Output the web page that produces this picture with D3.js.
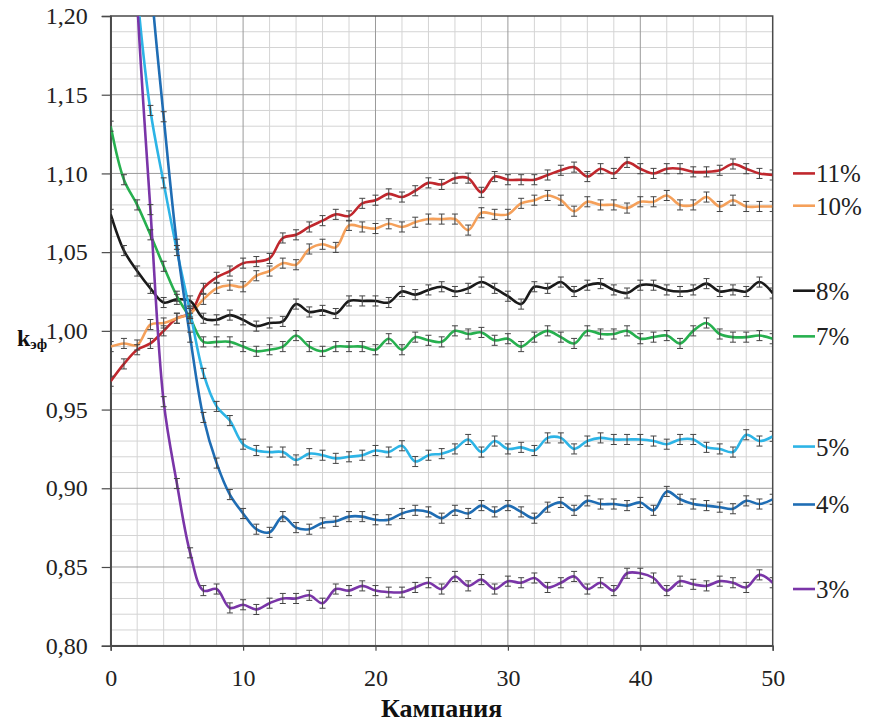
<!DOCTYPE html>
<html>
<head>
<meta charset="utf-8">
<script src="https://cdn.jsdelivr.net/npm/d3@7"></script>
</head>
<body style="margin:0; background:#fff">
<script>
// Campaign numbers 0..50 and k_eff per series
const campaigns = d3.range(0, 51);
const seriesNames = ['11%', '10%', '8%', '7%', '5%', '4%', '3%'];
const seriesColors = ['#c0272d', '#f5a05a', '#1a1a1a', '#27b04f', '#2db4e6', '#1f6db4', '#7a35a8'];

const k11 = [0.968, 0.979, 0.988, 0.992, 1.000, 1.008, 1.011, 1.027, 1.034, 1.038, 1.043, 1.044, 1.046, 1.059, 1.061, 1.066, 1.070, 1.074, 1.073, 1.081, 1.083, 1.087, 1.085, 1.089, 1.094, 1.093, 1.097, 1.097, 1.088, 1.098, 1.096, 1.096, 1.096, 1.099, 1.102, 1.104, 1.098, 1.103, 1.100, 1.107, 1.103, 1.100, 1.103, 1.103, 1.101, 1.101, 1.102, 1.106, 1.103, 1.100, 1.099];
const k10 = [0.990, 0.992, 0.991, 1.004, 1.005, 1.008, 1.011, 1.020, 1.027, 1.029, 1.028, 1.035, 1.038, 1.043, 1.042, 1.052, 1.055, 1.053, 1.067, 1.066, 1.065, 1.068, 1.066, 1.069, 1.071, 1.071, 1.071, 1.064, 1.075, 1.074, 1.074, 1.081, 1.083, 1.086, 1.083, 1.076, 1.082, 1.080, 1.080, 1.078, 1.082, 1.082, 1.086, 1.080, 1.080, 1.085, 1.079, 1.083, 1.079, 1.079, 1.079];
const k8 = [1.074, 1.051, 1.038, 1.027, 1.018, 1.020, 1.019, 1.008, 1.007, 1.010, 1.007, 1.003, 1.005, 1.006, 1.017, 1.012, 1.013, 1.011, 1.019, 1.019, 1.019, 1.018, 1.025, 1.023, 1.026, 1.028, 1.025, 1.027, 1.031, 1.027, 1.022, 1.017, 1.028, 1.027, 1.031, 1.025, 1.029, 1.030, 1.026, 1.024, 1.029, 1.029, 1.026, 1.025, 1.026, 1.030, 1.025, 1.026, 1.025, 1.031, 1.024];
const k7 = [1.130, 1.096, 1.080, 1.061, 1.041, 1.022, 1.008, 0.993, 0.993, 0.993, 0.990, 0.987, 0.988, 0.990, 0.997, 0.990, 0.987, 0.990, 0.990, 0.990, 0.988, 0.995, 0.988, 0.996, 0.994, 0.993, 1.000, 0.998, 0.999, 0.994, 0.995, 0.990, 0.996, 1.000, 0.996, 0.992, 1.000, 0.998, 0.998, 1.000, 0.995, 0.996, 0.997, 0.992, 1.000, 1.005, 0.998, 0.996, 0.996, 0.997, 0.995];
const k5 = [1.450, 1.330, 1.215, 1.140, 1.094, 1.051, 1.012, 0.973, 0.952, 0.943, 0.928, 0.924, 0.923, 0.923, 0.918, 0.922, 0.921, 0.919, 0.920, 0.921, 0.924, 0.923, 0.927, 0.917, 0.921, 0.922, 0.925, 0.931, 0.923, 0.930, 0.925, 0.926, 0.924, 0.932, 0.932, 0.925, 0.930, 0.932, 0.931, 0.931, 0.931, 0.930, 0.928, 0.931, 0.931, 0.926, 0.925, 0.923, 0.934, 0.930, 0.933];
const k4 = [1.600, 1.480, 1.350, 1.225, 1.136, 1.055, 0.996, 0.945, 0.916, 0.896, 0.884, 0.874, 0.872, 0.882, 0.875, 0.874, 0.878, 0.879, 0.882, 0.882, 0.880, 0.880, 0.884, 0.886, 0.885, 0.881, 0.886, 0.884, 0.889, 0.885, 0.889, 0.885, 0.881, 0.888, 0.891, 0.886, 0.892, 0.890, 0.890, 0.889, 0.891, 0.886, 0.898, 0.893, 0.890, 0.889, 0.888, 0.887, 0.892, 0.890, 0.893];
const k3 = [1.620, 1.420, 1.210, 1.077, 0.955, 0.903, 0.859, 0.835, 0.836, 0.824, 0.826, 0.823, 0.827, 0.830, 0.830, 0.832, 0.827, 0.836, 0.835, 0.838, 0.835, 0.834, 0.834, 0.837, 0.840, 0.836, 0.844, 0.838, 0.842, 0.836, 0.841, 0.840, 0.843, 0.837, 0.840, 0.844, 0.836, 0.840, 0.835, 0.846, 0.846, 0.843, 0.835, 0.841, 0.839, 0.838, 0.841, 0.840, 0.837, 0.845, 0.840];
const seriesValues = [k11, k10, k8, k7, k5, k4, k3];
const errHalf = 0.0032;

const xTicks = [0, 10, 20, 30, 40, 50];
const yTicks = [0.80, 0.85, 0.90, 0.95, 1.00, 1.05, 1.10, 1.15, 1.20];
// legend label vertical positions (in data units)
const legendY = [1.100, 1.0795, 1.0255, 0.9965, 0.9265, 0.8897, 0.836];

const FONT = 'Liberation Serif';
const width = 875, height = 722;
const margin = { left: 110.7, top: 16, right: 875 - 772.7, bottom: 722 - 645.7 };
const iw = width - margin.left - margin.right;
const ih = height - margin.top - margin.bottom;

const svg = d3.select('body').append('svg')
  .attr('width', width).attr('height', height)
  .attr('font-family', FONT)
  .style('display', 'block');
svg.append('rect').attr('width', width).attr('height', height).attr('fill', '#fff');

const g = svg.append('g').attr('transform', `translate(${margin.left},${margin.top})`);

const x = d3.scaleLinear().domain([0, 50]).range([0, iw]);
const y = d3.scaleLinear().domain([0.80, 1.20]).range([ih, 0]);
const fmt = d3.formatLocale({ decimal: ',', thousands: ' ', grouping: [3], currency: ['', ''] });

// Grid: minor (every 2 campaigns / 0.01), major (10 / 0.05)
const xMinor = d3.range(2, 50, 2).filter(v => v % 10 !== 0);
const yMinor = d3.range(1, 40).map(i => 0.80 + i * 0.01).filter((v, i) => (i + 1) % 5 !== 0);
const xMajor = xTicks.slice(1, -1);
const yMajor = yTicks.slice(1, -1);

g.append('g').selectAll('line').data(xMinor).join('line')
  .attr('x1', d => x(d)).attr('x2', d => x(d)).attr('y1', 0).attr('y2', ih)
  .attr('stroke', '#d4d4d4').attr('stroke-width', 1);
g.append('g').selectAll('line').data(yMinor).join('line')
  .attr('x1', 0).attr('x2', iw).attr('y1', d => y(d)).attr('y2', d => y(d))
  .attr('stroke', '#d4d4d4').attr('stroke-width', 1);
g.append('g').selectAll('line').data(xMajor).join('line')
  .attr('x1', d => x(d)).attr('x2', d => x(d)).attr('y1', 0).attr('y2', ih)
  .attr('stroke', '#9a9a9a').attr('stroke-width', 1);
g.append('g').selectAll('line').data(yMajor).join('line')
  .attr('x1', 0).attr('x2', iw).attr('y1', d => y(d)).attr('y2', d => y(d))
  .attr('stroke', '#9a9a9a').attr('stroke-width', 1);

// Plot border
g.append('rect').attr('width', iw).attr('height', ih)
  .attr('fill', 'none').attr('stroke', '#4a4a4a').attr('stroke-width', 1.5);

// Axes
const yAxis = g.append('g')
  .call(d3.axisLeft(y).tickValues(yTicks).tickFormat(fmt.format('.2f')).tickSize(9).tickPadding(14));
const xAxis = g.append('g').attr('transform', `translate(0,${ih})`)
  .call(d3.axisBottom(x).tickValues(xTicks).tickFormat(d3.format('d')).tickSize(5).tickPadding(18));
[yAxis, xAxis].forEach(a => {
  a.attr('font-family', FONT).attr('font-size', 24);
  a.select('.domain').attr('stroke', '#4a4a4a').attr('stroke-width', 1.5);
  a.selectAll('.tick line').attr('stroke', '#4a4a4a').attr('stroke-width', 1.2);
  a.selectAll('.tick text').attr('font-family', FONT).attr('font-size', 24).attr('fill', '#222');
});

// Clip
svg.append('clipPath').attr('id', 'plot-clip')
  .append('rect').attr('width', iw).attr('height', ih);
const plot = g.append('g').attr('clip-path', 'url(#plot-clip)');

const line = d3.line()
  .x((d, i) => x(campaigns[i]))
  .y(d => y(d))
  .curve(d3.curveCatmullRom.alpha(0.5));

seriesValues.forEach((vals, si) => {
  plot.append('path').datum(vals)
    .attr('fill', 'none')
    .attr('stroke', seriesColors[si])
    .attr('stroke-width', 2.6)
    .attr('d', line);
});

// Error bars
seriesValues.forEach((vals) => {
  const eb = plot.append('g').attr('stroke', '#444').attr('stroke-width', 1);
  vals.forEach((v, i) => {
    const cx = x(campaigns[i]);
    const y0 = y(v - errHalf), y1 = y(v + errHalf);
    eb.append('line').attr('x1', cx).attr('x2', cx).attr('y1', y0).attr('y2', y1);
    eb.append('line').attr('x1', cx - 3).attr('x2', cx + 3).attr('y1', y0).attr('y2', y0);
    eb.append('line').attr('x1', cx - 3).attr('x2', cx + 3).attr('y1', y1).attr('y2', y1);
  });
});

// Legend
const legend = svg.append('g');
seriesNames.forEach((name, i) => {
  const ly = margin.top + y(legendY[i]);
  legend.append('line')
    .attr('x1', 793).attr('x2', 815).attr('y1', ly).attr('y2', ly)
    .attr('stroke', seriesColors[i]).attr('stroke-width', 2.6);
  legend.append('text')
    .attr('x', 816).attr('y', ly + 9)
    .attr('font-family', FONT).attr('font-size', 25).attr('fill', '#222')
    .text(name);
});

// Axis titles
svg.append('text')
  .attr('x', margin.left + iw / 2).attr('y', 717)
  .attr('text-anchor', 'middle')
  .attr('font-family', FONT).attr('font-size', 26).attr('font-weight', 'bold').attr('fill', '#111')
  .text('Кампания');

const yt = svg.append('text')
  .attr('x', 17).attr('y', 346)
  .attr('font-family', FONT).attr('font-weight', 'bold').attr('fill', '#111');
yt.append('tspan').attr('font-size', 24).text('k');
yt.append('tspan').attr('font-size', 15).attr('dy', 3).text('эф');
</script>
</body>
</html>
